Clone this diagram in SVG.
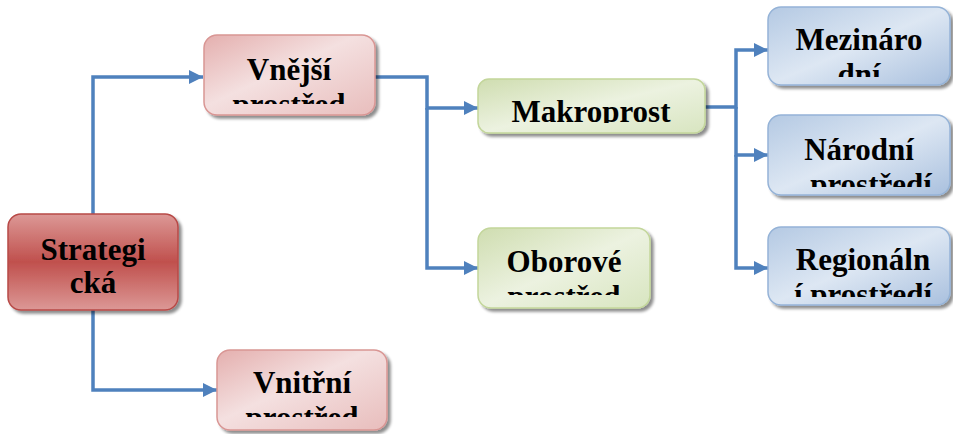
<svg xmlns="http://www.w3.org/2000/svg" width="953" height="434" viewBox="0 0 953 434">
<defs>
<linearGradient id="gStrat" x1="0" y1="0" x2="0" y2="1">
<stop offset="0" stop-color="#DC9896"/><stop offset="0.5" stop-color="#C0504D"/><stop offset="1" stop-color="#DC9896"/>
</linearGradient>
<linearGradient id="gRed" x1="0" y1="0" x2="1" y2="1">
<stop offset="0" stop-color="#E4AFAE"/><stop offset="0.45" stop-color="#F4E0E0"/><stop offset="1" stop-color="#E8BDBC"/>
</linearGradient>
<linearGradient id="gGreen" x1="0" y1="0" x2="1" y2="1">
<stop offset="0" stop-color="#CFDDB0"/><stop offset="0.5" stop-color="#ECF2E0"/><stop offset="1" stop-color="#D8E5C0"/>
</linearGradient>
<linearGradient id="gBlue" x1="0" y1="0" x2="1" y2="1">
<stop offset="0" stop-color="#B4C9E3"/><stop offset="0.5" stop-color="#DDE7F3"/><stop offset="1" stop-color="#A9C0DE"/>
</linearGradient>
<filter id="sh" x="-10%" y="-10%" width="125%" height="130%">
<feGaussianBlur in="SourceAlpha" stdDeviation="1.5"/>
<feOffset dx="3" dy="3" result="b"/>
<feComponentTransfer><feFuncA type="linear" slope="0.45"/></feComponentTransfer>
<feMerge><feMergeNode/><feMergeNode in="SourceGraphic"/></feMerge>
</filter>
<marker id="arr" viewBox="0 0 10 10" refX="10" refY="5" markerWidth="4" markerHeight="4" orient="auto" markerUnits="strokeWidth">
<path d="M0,0 L10,5 L0,10 z" fill="#4F81BD"/>
</marker>
<clipPath id="cVn"><rect x="204" y="35" width="171" height="69"/></clipPath>
<clipPath id="cMa"><rect x="478" y="79" width="227" height="44"/></clipPath>
<clipPath id="cOb"><rect x="478" y="228" width="172" height="67"/></clipPath>
<clipPath id="cMe"><rect x="768" y="7" width="182" height="70"/></clipPath>
<clipPath id="cNa"><rect x="768" y="115" width="182" height="72"/></clipPath>
<clipPath id="cRe"><rect x="768" y="227" width="182" height="70"/></clipPath>
<clipPath id="cVi"><rect x="217" y="350" width="170" height="67"/></clipPath>
</defs>
<style>
text{font-family:"Liberation Serif","Times New Roman",serif;font-weight:bold;font-size:31px;fill:#000;text-anchor:middle}
.c{fill:none;stroke:#4F81BD;stroke-width:3.5}
.red{fill:url(#gRed);stroke:#D99694;stroke-width:1.5}
.grn{fill:url(#gGreen);stroke:#C3D69B;stroke-width:1.5}
.blu{fill:url(#gBlue);stroke:#95B3D7;stroke-width:1.5}
</style>
<g id="connectors">
<path class="c" d="M93,214 V77 H203" marker-end="url(#arr)"/>
<path class="c" d="M93,310 V390 H217" marker-end="url(#arr)"/>
<path class="c" d="M375,77 H427 V108 H478" marker-end="url(#arr)"/>
<path class="c" d="M427,108 V268 H478" marker-end="url(#arr)"/>
<path class="c" d="M705,107 H736 V50 H768" marker-end="url(#arr)"/>
<path class="c" d="M736,107 V155 H768" marker-end="url(#arr)"/>
<path class="c" d="M736,155 V268 H768" marker-end="url(#arr)"/>
</g>
<g id="strategicka">
<rect x="8" y="214" width="170" height="96" rx="13" fill="url(#gStrat)" stroke="#B84A47" stroke-width="1.5" filter="url(#sh)"/>
<text x="93" y="260">Strategi</text>
<text x="93" y="293">cká</text>
</g>
<g id="vnejsi">
<rect x="204" y="35" width="171" height="80" rx="13" class="red" filter="url(#sh)"/>
<g clip-path="url(#cVn)"><text x="289" y="80">Vnější</text><text x="289" y="115">prostřed</text></g>
</g>
<g id="makroprostredi">
<rect x="478" y="79" width="227" height="54" rx="11" class="grn" filter="url(#sh)"/>
<g clip-path="url(#cMa)"><text x="591" y="122">Makroprost</text></g>
</g>
<g id="oborove">
<rect x="478" y="228" width="172" height="80" rx="13" class="grn" filter="url(#sh)"/>
<g clip-path="url(#cOb)"><text x="564" y="272">Oborové</text><text x="564" y="307">prostřed</text></g>
</g>
<g id="mezinarodni">
<rect x="768" y="7" width="182" height="78" rx="13" class="blu" filter="url(#sh)"/>
<g clip-path="url(#cMe)"><text x="859" y="50">Mezináro</text><text x="859" y="85">dní</text></g>
</g>
<g id="narodni">
<rect x="768" y="115" width="182" height="80" rx="13" class="blu" filter="url(#sh)"/>
<g clip-path="url(#cNa)"><text x="871" y="195">prostředí</text><text x="859" y="160">Národní</text></g>
</g>
<g id="regionalni">
<rect x="768" y="227" width="182" height="78" rx="13" class="blu" filter="url(#sh)"/>
<g clip-path="url(#cRe)"><text x="863" y="270">Regionáln</text><text x="863" y="305">í prostředí</text></g>
</g>
<g id="vnitrni">
<rect x="217" y="350" width="170" height="80" rx="13" class="red" filter="url(#sh)"/>
<g clip-path="url(#cVi)"><text x="302" y="393">Vnitřní</text><text x="302" y="428">prostřed</text></g>
</g>
</svg>
